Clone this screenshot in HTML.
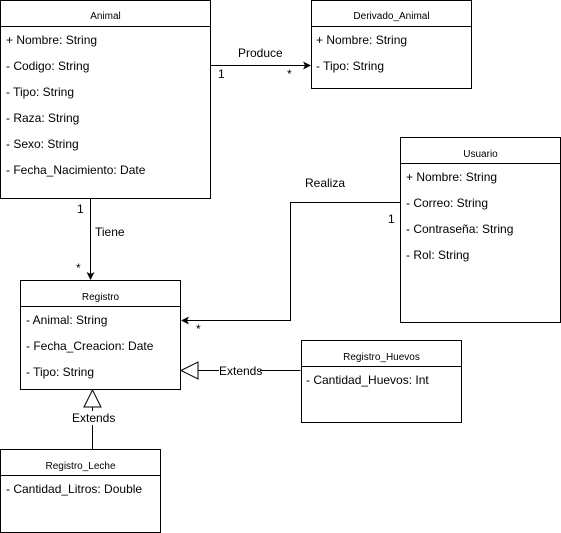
<!DOCTYPE html>
<html><head><meta charset="utf-8"><style>body{margin:0;background:#fff}svg{display:block}text{font-family:"Liberation Sans",sans-serif;fill:#000}.t{font-size:10px}.a{font-size:12px}</style></head><body>
<svg width="561" height="533" viewBox="0 0 561 533" xmlns="http://www.w3.org/2000/svg">
<g fill="none" stroke="#000" stroke-width="1">
<rect x="0.5" y="0.5" width="210" height="198"/><line x1="0.5" y1="26.5" x2="210.5" y2="26.5"/>
<rect x="311.5" y="0.5" width="160" height="88"/><line x1="311.5" y1="26.5" x2="471.5" y2="26.5"/>
<rect x="400.5" y="137.5" width="160" height="185"/><line x1="400.5" y1="163.5" x2="560.5" y2="163.5"/>
<rect x="20.5" y="280.5" width="160" height="109"/><line x1="20.5" y1="306.5" x2="180.5" y2="306.5"/>
<rect x="301.5" y="340.5" width="160" height="82"/><line x1="301.5" y1="366.5" x2="461.5" y2="366.5"/>
<rect x="0.5" y="449.5" width="160" height="83"/><line x1="0.5" y1="475.5" x2="160.5" y2="475.5"/>
<line x1="210.5" y1="65.5" x2="305" y2="65.5"/>
<line x1="90.5" y1="198.5" x2="90.5" y2="275"/>
<polyline points="400.5,202.5 290.5,202.5 290.5,320.5 186,320.5"/>
<line x1="198" y1="370.5" x2="300.5" y2="370.5"/>
<polygon points="181,370.5 198,362 198,379" fill="#fff"/>
<line x1="92.5" y1="407" x2="92.5" y2="449.5"/>
<polygon points="92.5,390 84,407 101,407" fill="#fff"/>
</g>
<g fill="#000">
<polygon points="311,65.5 303,61.5 305,65.5 303,69.5"/>
<polygon points="90.5,280 86.5,272 90.5,274 94.5,272"/>
<polygon points="181,320.5 189,316.5 187,320.5 189,324.5"/>
</g>
<rect x="219" y="364" width="41" height="13" fill="#fff"/>
<rect x="70" y="411" width="44" height="14" fill="#fff"/>
<text class="t" x="105.5" y="19" text-anchor="middle">Animal</text>
<text class="t" x="391.5" y="19" text-anchor="middle">Derivado_Animal</text>
<text class="t" x="480.5" y="157" text-anchor="middle">Usuario</text>
<text class="t" x="100.5" y="300" text-anchor="middle">Registro</text>
<text class="t" x="381.5" y="360" text-anchor="middle">Registro_Huevos</text>
<text class="t" x="80.5" y="469" text-anchor="middle">Registro_Leche</text>
<g class="a">
<text class="a" x="6" y="44">+ Nombre: String</text>
<text class="a" x="6" y="70">- Codigo: String</text>
<text class="a" x="6" y="96">- Tipo: String</text>
<text class="a" x="6" y="122">- Raza: String</text>
<text class="a" x="6" y="148">- Sexo: String</text>
<text class="a" x="6" y="174">- Fecha_Nacimiento: Date</text>
<text class="a" x="316" y="44">+ Nombre: String</text>
<text class="a" x="316" y="70">- Tipo: String</text>
<text class="a" x="406" y="181">+ Nombre: String</text>
<text class="a" x="406" y="207">- Correo: String</text>
<text class="a" x="406" y="233">- Contraseña: String</text>
<text class="a" x="406" y="259">- Rol: String</text>
<text class="a" x="26" y="324">- Animal: String</text>
<text class="a" x="26" y="350">- Fecha_Creacion: Date</text>
<text class="a" x="26" y="376">- Tipo: String</text>
<text class="a" x="306" y="384">- Cantidad_Huevos: Int</text>
<text class="a" x="6" y="493">- Cantidad_Litros: Double</text>
<text class="a" x="238" y="57">Produce</text>
<text class="a" x="218" y="78">1</text>
<text class="a" x="287" y="78">*</text>
<text class="a" x="95" y="236">Tiene</text>
<text class="a" x="77" y="213">1</text>
<text class="a" x="76" y="272">*</text>
<text class="a" x="305" y="187">Realiza</text>
<text class="a" x="388" y="223">1</text>
<text class="a" x="196" y="333">*</text>
<text class="a" x="219" y="375">Extends</text>
<text class="a" x="72" y="422">Extends</text>
</g>
</svg>
</body></html>
